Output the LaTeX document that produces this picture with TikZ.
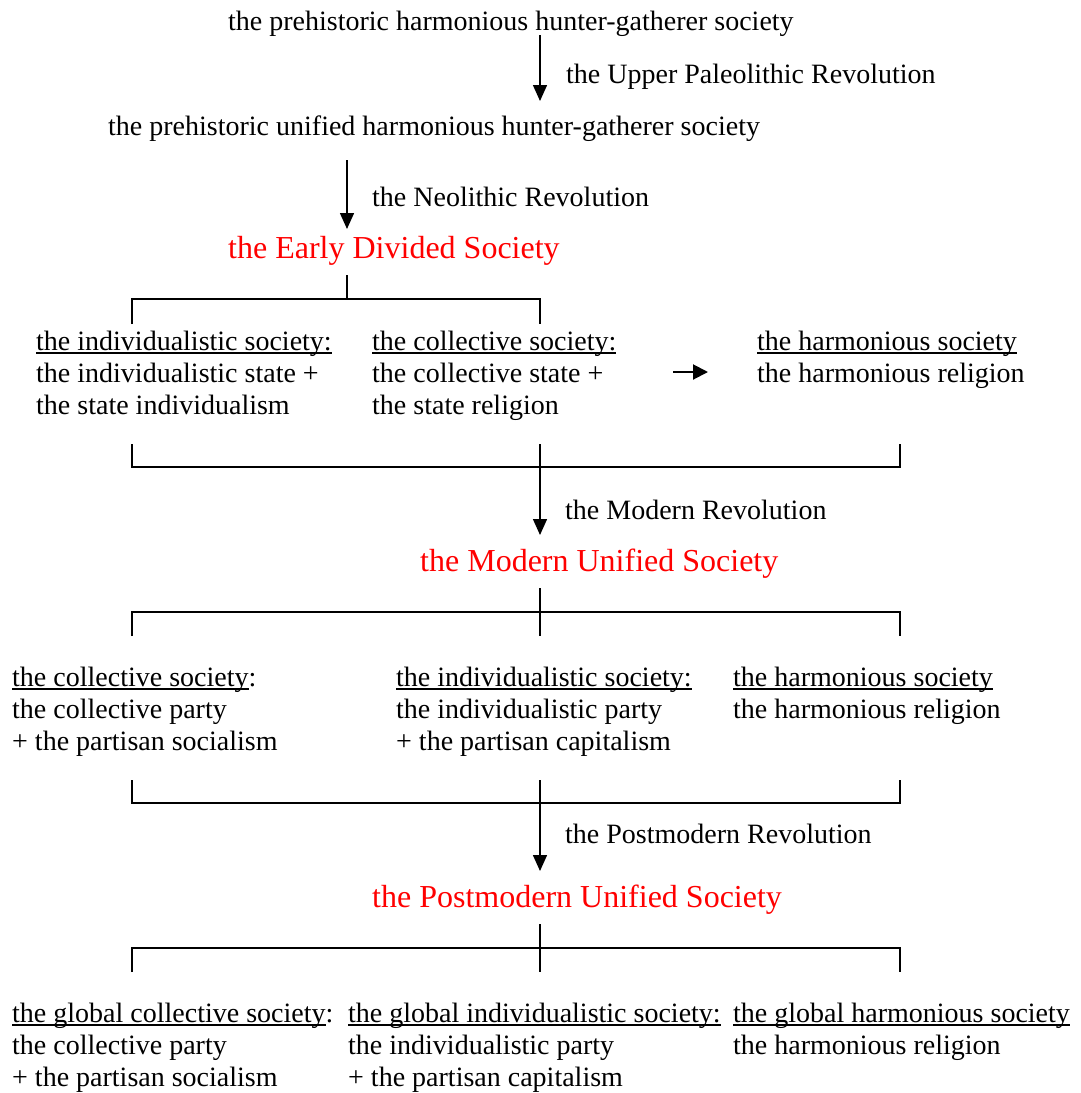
\documentclass[tikz,border=0pt]{standalone}
\usepackage{fontspec}
\setmainfont{Liberation Serif}
\usetikzlibrary{arrows.meta}
\newsavebox\ulinebox
% underline at a fixed depth below the baseline, crossing descenders
\newcommand\uln[1]{\sbox\ulinebox{#1}\rlap{\rule[-3.5pt]{\wd\ulinebox}{1.6pt}}\usebox\ulinebox}
\definecolor{stagered}{RGB}{255,0,0}
\tikzset{
  txt/.style={anchor=base west, inner sep=0pt, font=\fontsize{28}{32}\selectfont},
  stage/.style={anchor=base west, inner sep=0pt, text=stagered, font=\fontsize{32}{36}\selectfont},
  conn/.style={line width=1.5pt},
  arr/.style={line width=1.5pt, -{Triangle[length=16pt,width=14pt]}},
  smallarr/.style={line width=2pt, -{Triangle[length=15pt,width=15pt]}}
}
\begin{document}
\begin{tikzpicture}[x=1pt,y=-1pt]
\useasboundingbox (0,0) rectangle (1081,1093);

% prehistoric stages
\node[txt] (pre1) at (228,30) {the prehistoric harmonious hunter-gatherer society};
\node[txt] (rev1) at (566,83) {the Upper Paleolithic Revolution};
\node[txt] (pre2) at (108,135) {the prehistoric unified harmonious hunter-gatherer society};
\node[txt] (rev2) at (372,206) {the Neolithic Revolution};
\node[stage] (early) at (228,258) {the Early Divided Society};

\coordinate (a1s) at (540,35);  \coordinate (a1e) at (540,101);
\coordinate (a2s) at (347,160); \coordinate (a2e) at (347,229);
\draw[arr] (a1s) -- (a1e);
\draw[arr] (a2s) -- (a2e);

% branches of the early divided society
\coordinate (b1top) at (347,275);
\coordinate (b1mid) at (347,299);
\coordinate (b1l) at (132,299); \coordinate (b1r) at (540,299);
\draw[conn] (b1top) -- (b1mid);
\draw[conn] (132,324) -- (b1l) -- (b1r) -- (540,324);

\node[txt] (e1a) at (36,350) {\uln{the individualistic society:}};
\node[txt] (e1b) at (36,382) {the individualistic state +};
\node[txt] (e1c) at (36,414) {the state individualism};
\node[txt] (e2a) at (372,350) {\uln{the collective society:}};
\node[txt] (e2b) at (372,382) {the collective state +};
\node[txt] (e2c) at (372,414) {the state religion};
\node[txt] (e3a) at (757,350) {\uln{the harmonious society}};
\node[txt] (e3b) at (757,382) {the harmonious religion};
\coordinate (sa1) at (673,372); \coordinate (sa2) at (708,372);
\draw[smallarr] (sa1) -- (sa2);

% merge into the modern revolution
\coordinate (j1l) at (132,467); \coordinate (j1c) at (540,467); \coordinate (j1r) at (900,467);
\draw[conn] (132,444) -- (j1l) -- (j1r) -- (900,444);
\draw[conn] (540,444) -- (j1c);
\coordinate (a3e) at (540,535);
\draw[arr] (j1c) -- (a3e);
\node[txt] (rev3) at (565,519) {the Modern Revolution};
\node[stage] (modern) at (420,571) {the Modern Unified Society};

% branches of the modern unified society
\coordinate (b2top) at (540,588);
\coordinate (b2l) at (132,612); \coordinate (b2c) at (540,612); \coordinate (b2r) at (900,612);
\draw[conn] (b2top) -- (540,636);
\draw[conn] (132,636) -- (b2l) -- (b2r) -- (900,636);

\node[txt] (m1a) at (12,686) {\uln{the collective society}:};
\node[txt] (m1b) at (12,718) {the collective party};
\node[txt] (m1d) at (12,750) {+ the partisan socialism};
\node[txt] (m2a) at (396,686) {\uln{the individualistic society:}};
\node[txt] (m2b) at (396,718) {the individualistic party};
\node[txt] (m2d) at (396,750) {+ the partisan capitalism};
\node[txt] (m3a) at (733,686) {\uln{the harmonious society}};
\node[txt] (m3b) at (733,718) {the harmonious religion};

% merge into the postmodern revolution
\coordinate (j2l) at (132,803); \coordinate (j2c) at (540,803); \coordinate (j2r) at (900,803);
\draw[conn] (132,780) -- (j2l) -- (j2r) -- (900,780);
\draw[conn] (540,780) -- (j2c);
\coordinate (a4e) at (540,871);
\draw[arr] (j2c) -- (a4e);
\node[txt] (rev4) at (565,843) {the Postmodern Revolution};
\node[stage] (postmodern) at (372,907) {the Postmodern Unified Society};

% branches of the postmodern unified society
\coordinate (b3top) at (540,924);
\coordinate (b3l) at (132,948); \coordinate (b3c) at (540,948); \coordinate (b3r) at (900,948);
\draw[conn] (b3top) -- (540,972);
\draw[conn] (132,972) -- (b3l) -- (b3r) -- (900,972);

\node[txt] (g1a) at (12,1022) {\uln{the global collective society}:};
\node[txt] (g1b) at (12,1054) {the collective party};
\node[txt] (g1c) at (12,1086) {+ the partisan socialism};
\node[txt] (g2a) at (348,1022) {\uln{the global individualistic society:}};
\node[txt] (g2b) at (348,1054) {the individualistic party};
\node[txt] (g2c) at (348,1086) {+ the partisan capitalism};
\node[txt] (g3a) at (733,1022) {\uln{the global harmonious society}};
\node[txt] (g3b) at (733,1054) {the harmonious religion};
\end{tikzpicture}
\end{document}
